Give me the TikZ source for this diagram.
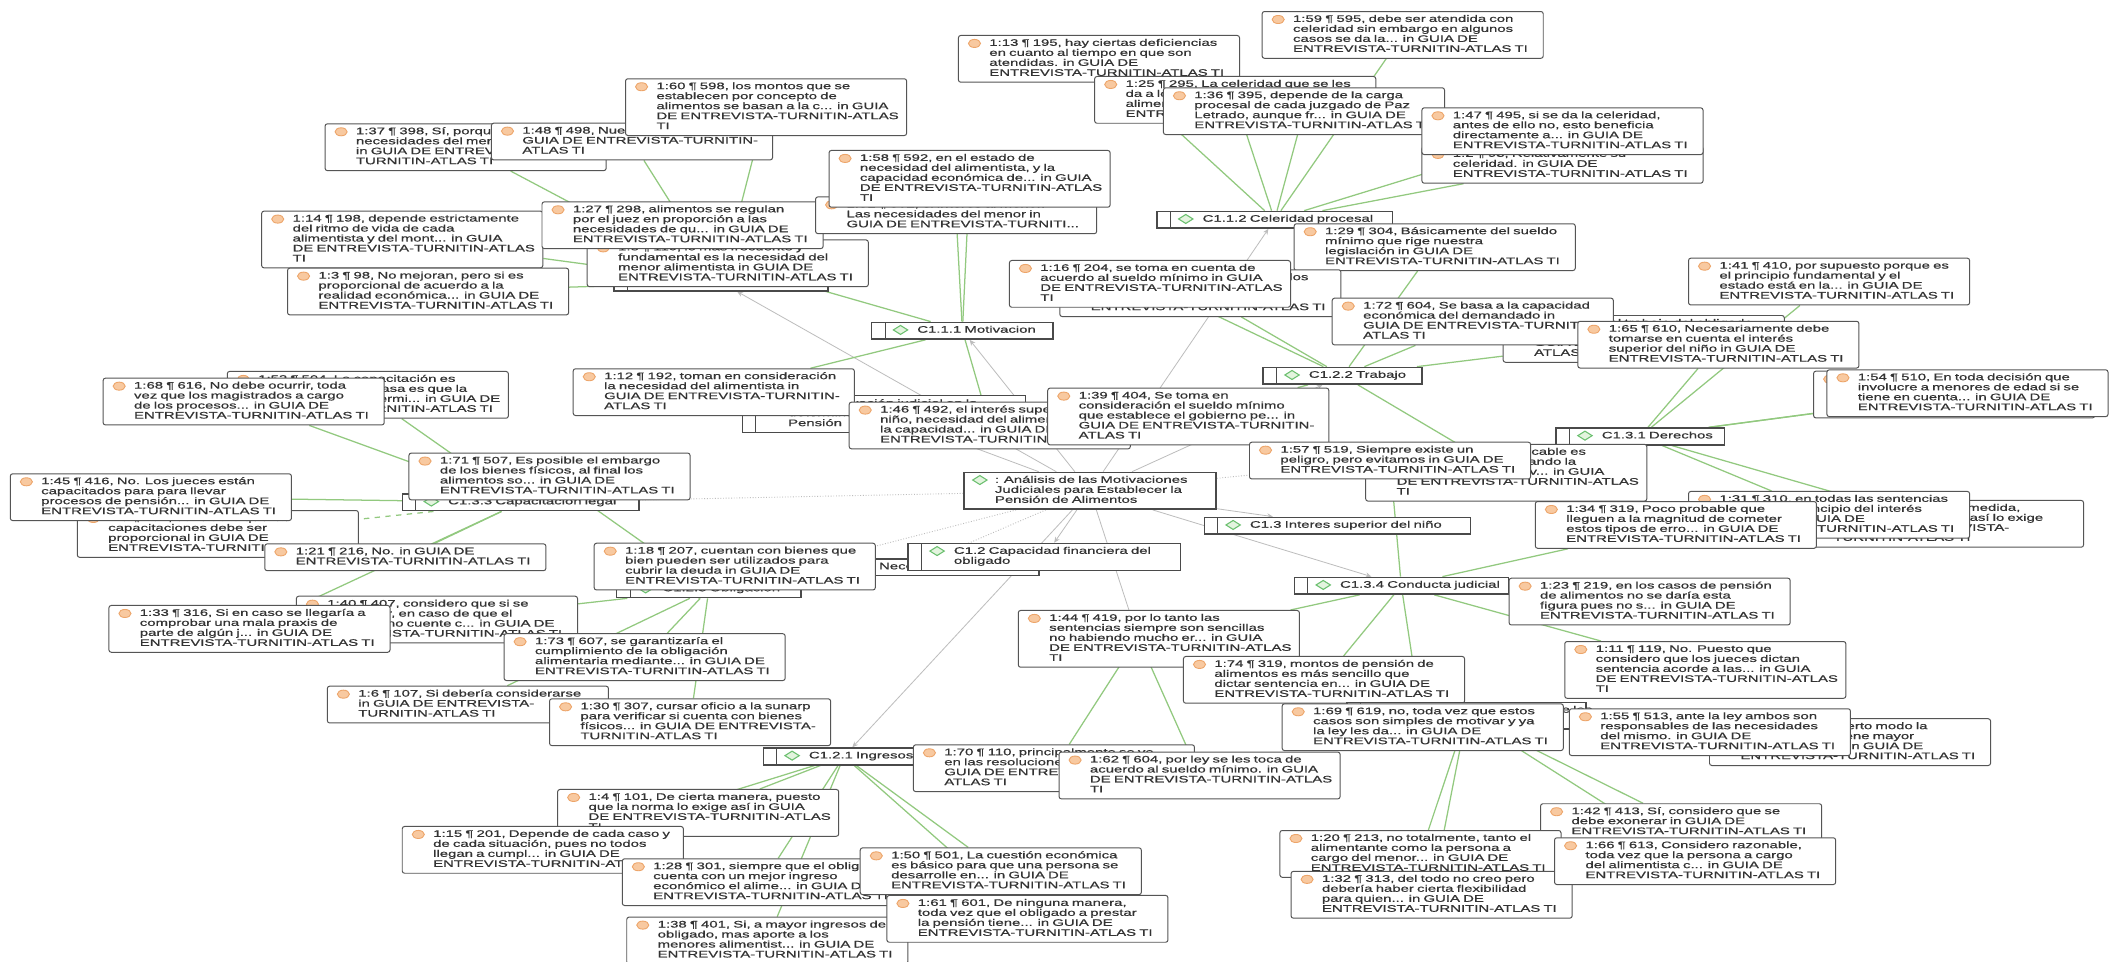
\documentclass[tikz,border=0pt]{standalone}
\usepackage{fontspec}
\usepackage{xcolor}
\usetikzlibrary{shapes.geometric,calc,arrows.meta}

\newfontfamily\qfont[FakeStretch=1.57,FakeBold=0.7]{Liberation Sans}
\newcommand{\boxfont}{\qfont\fontsize{5.3pt}{5.57pt}\selectfont}

\definecolor{qline}{HTML}{555555}
\definecolor{cline}{HTML}{4A4A4A}
\definecolor{qtext}{HTML}{333333}
\definecolor{linkgreen}{HTML}{92C97F}
\definecolor{relgray}{HTML}{BDBDBD}
\definecolor{qiconfill}{HTML}{F8C9A0}
\definecolor{qiconline}{HTML}{EDA56A}
\definecolor{cgreen}{HTML}{6CC070}
\definecolor{cgreenfill}{HTML}{E3F4DE}

\pgfdeclarelayer{back}
\pgfdeclarelayer{links}
\pgfsetlayers{back,links,main}

\tikzset{
  qicon/.style={ellipse, draw=qiconline, fill=qiconfill, line width=0.5pt, minimum width=6.75pt, minimum height=4.5pt, inner sep=0pt},
  cicon/.style={diamond, draw=cgreen, fill=cgreenfill, line width=0.6pt, minimum width=8.25pt, minimum height=5.25pt, inner sep=0pt},
  qbox/.style={draw=qline, fill=white, line width=0.55pt, rounded corners=1.3pt, anchor=north west, inner xsep=0pt, inner ysep=1.9pt, text width=156.75pt, font=\boxfont, text=qtext,
    execute at begin node={\leftskip=17.25pt\rightskip=-12pt plus 1fil\lineskiplimit=-5pt\relax\strut},
    execute at end node={\strut},
    append after command={node[qicon] at ($(\tikzlastnode.north west)+(12.3,6.3)$) {}}},
  cbox/.style={draw=cline, fill=white, line width=0.8pt, anchor=north west, inner xsep=0pt, inner ysep=1.9pt, font=\boxfont, text=qtext,
    execute at begin node={\leftskip=25.5pt\rightskip=-12pt plus 1fil\lineskiplimit=-5pt\relax\strut},
    execute at end node={\strut},
    path picture={\draw[cline, line width=0.6pt] ([xshift=7.5pt]path picture bounding box.north west) -- ([xshift=7.5pt]path picture bounding box.south west);},
    append after command={node[cicon] at ($(\tikzlastnode.north west)+(22,6.2)$) {}}},
  cenbox/.style={draw=cline, fill=white, line width=0.8pt, anchor=north west, inner xsep=0pt, inner ysep=1.9pt, font=\boxfont, text=qtext,
    execute at begin node={\leftskip=17.25pt\rightskip=-12pt plus 1fil\lineskiplimit=-5pt\relax\strut},
    execute at end node={\strut},
    append after command={node[cicon] at ($(\tikzlastnode.north west)+(12.3,6.2)$) {}}},
  link/.style={draw=linkgreen, line width=0.7pt},
  rel/.style={draw=relgray, line width=0.45pt, -{Stealth[length=3.2pt,width=2.8pt]}},
  relplain/.style={draw=relgray, line width=0.45pt},
  reldot/.style={draw=relgray, line width=0.5pt, densely dotted}
}

\begin{document}
\begin{tikzpicture}[x=0.75pt,y=0.75pt,yscale=-1,xscale=1]

\useasboundingbox (0,0) rectangle (1568,714.5);
\begin{pgfonlayer}{back}
\fill[white] (0,0) rectangle (1568,714.5);
\end{pgfonlayer}


\node[qbox] (q137) at (241.3,91.7) {1:37 ¶ 398, Sí, porque las\\necesidades del menor son...\\in GUIA DE ENTREVISTA-\\TURNITIN-ATLAS TI};

\node[qbox] (q148) at (365,91.2) {1:48 ¶ 498, Nuevamente... in\\GUIA DE ENTREVISTA-TURNITIN-\\ATLAS TI};

\node[qbox] (q160) at (464.7,58.2) {1:60 ¶ 598, los montos que se\\establecen por concepto de\\alimentos se basan a la c... in GUIA\\DE ENTREVISTA-TURNITIN-ATLAS\\TI};

\node[qbox] (q114) at (194.2,156.6) {1:14 ¶ 198, depende estrictamente\\del ritmo de vida de cada\\alimentista y del mont... in GUIA\\DE ENTREVISTA-TURNITIN-ATLAS\\TI};

\node[qbox] (q13) at (213.4,199) {1:3 ¶ 98, No mejoran, pero si es\\proporcional de acuerdo a la\\realidad económica... in GUIA DE\\ENTREVISTA-TURNITIN-ATLAS TI};

\node[cbox, text width=119.25pt] (c113) at (456,203.2) {C1.1.3 Proporcionalidad};

\node[qbox] (q18) at (436.2,178) {1:8 ¶ 110, lo más frecuente y\\fundamental es la necesidad del\\menor alimentista in GUIA DE\\ENTREVISTA-TURNITIN-ATLAS TI};

\node[qbox] (q127) at (402.6,149.7) {1:27 ¶ 298, alimentos se regulan\\por el juez en proporción a las\\necesidades de qu... in GUIA DE\\ENTREVISTA-TURNITIN-ATLAS TI};

\node[qbox] (q151) at (606,146) {1:51 ¶ 502, el interés al menor.\\Las necesidades del menor in\\GUIA DE ENTREVISTA-TURNITI...};

\node[qbox] (q158) at (616,111.5) {1:58 ¶ 592, en el estado de\\necesidad del alimentista, y la\\capacidad económica de... in GUIA\\DE ENTREVISTA-TURNITIN-ATLAS\\TI};

\node[qbox] (q113) at (712.2,26) {1:13 ¶ 195, hay ciertas deficiencias\\en cuanto al tiempo en que son\\atendidas. in GUIA DE\\ENTREVISTA-TURNITIN-ATLAS TI};

\node[qbox] (q125) at (813.5,56.5) {1:25 ¶ 295, La celeridad que se les\\da a los procesos de\\alimentos... in GUIA DE\\ENTREVISTA-TURNITIN-ATLAS TI};

\node[qbox] (q136) at (864.6,64.9) {1:36 ¶ 395, depende de la carga\\procesal de cada juzgado de Paz\\Letrado, aunque fr... in GUIA DE\\ENTREVISTA-TURNITIN-ATLAS TI};

\node[qbox] (q159) at (938,8.2) {1:59 ¶ 595, debe ser atendida con\\celeridad sin embargo en algunos\\casos se da la... in GUIA DE\\ENTREVISTA-TURNITIN-ATLAS TI};

\node[qbox] (q12) at (1056.8,108.5) {1:2 ¶ 93, Relativamente su\\celeridad. in GUIA DE\\ENTREVISTA-TURNITIN-ATLAS TI};

\node[qbox] (q147) at (1056.8,79.8) {1:47 ¶ 495, si se da la celeridad,\\antes de ello no, esto beneficia\\directamente a... in GUIA DE\\ENTREVISTA-TURNITIN-ATLAS TI};

\node[cbox, text width=131.25pt] (cCel) at (859.6,156.6) {C1.1.2 Celeridad procesal};

\node[qbox] (q129) at (961.8,166) {1:29 ¶ 304, Básicamente del sueldo\\mínimo que rige nuestra\\legislación in GUIA DE\\ENTREVISTA-TURNITIN-ATLAS TI};

\node[qbox] (q117) at (787.6,200.2) {1:17 ¶ 205, se toma en cuenta los\\ingresos del obligado y las\\necesidades... in GUIA DE\\ENTREVISTA-TURNITIN-ATLAS TI};

\node[qbox] (q116) at (750.1,193.3) {1:16 ¶ 204, se toma en cuenta de\\acuerdo al sueldo mínimo in GUIA\\DE ENTREVISTA-TURNITIN-ATLAS\\TI};

\node[qbox] (q163) at (1117.2,234.2) {1:63 ¶ 607, el trabajo del obligado\\determina el monto... in\\GUIA DE ENTREVISTA-TURNITIN-\\ATLAS TI};

\node[qbox] (q172) at (990.1,221.3) {1:72 ¶ 604, Se basa a la capacidad\\económica del demandado in\\GUIA DE ENTREVISTA-TURNITIN-\\ATLAS TI};

\node[qbox] (q165) at (1172.7,238.5) {1:65 ¶ 610, Necesariamente debe\\tomarse en cuenta el interés\\superior del niño in GUIA DE\\ENTREVISTA-TURNITIN-ATLAS TI};

\node[cbox, text width=88.5pt] (cTra) at (938.6,272.6) {C1.2.2 Trabajo};

\node[qbox] (q141) at (1255,191.6) {1:41 ¶ 410, por supuesto porque es\\el principio fundamental y el\\estado está en la... in GUIA DE\\ENTREVISTA-TURNITIN-ATLAS TI};

\node[qbox] (q153) at (1348,275.6) {1:53 ¶ 509, En toda decisión se\\debe priorizar al menor... in\\GUIA DE ENTREVISTA-TURNITIN-\\ATLAS TI};

\node[qbox] (q154) at (1357.9,274.6) {1:54 ¶ 510, En toda decisión que\\involucre a menores de edad si se\\tiene en cuenta... in GUIA DE\\ENTREVISTA-TURNITIN-ATLAS TI};

\node[cbox, text width=93.75pt] (cDer) at (1156.4,317.7) {C1.3.1 Derechos};

\node[cbox, text width=158pt] (cPen) at (551.4,293.7) {C1.1 Motivación judicial en la\\determinación del monto de la\\Pensión};

\node[qbox] (q112) at (425.8,273.8) {1:12 ¶ 192, toman en consideración\\la necesidad del alimentista in\\GUIA DE ENTREVISTA-TURNITIN-\\ATLAS TI};

\node[cbox, text width=101.25pt] (cMot) at (647.5,239.1) {C1.1.1 Motivacion};

\node[qbox] (q146) at (631,298.6) {1:46 ¶ 492, el interés superior del\\niño, necesidad del alimentista y\\la capacidad... in GUIA DE\\ENTREVISTA-TURNITIN-ATLAS TI};

\node[qbox] (q139) at (778.6,288.2) {1:39 ¶ 404, Se toma en\\consideración el sueldo mínimo\\que establece el gobierno pe... in\\GUIA DE ENTREVISTA-TURNITIN-\\ATLAS TI};

\node[qbox] (q110) at (1015,330) {1:10 ¶ 115, la ley aplicable es\\la realidad, considerando la\\situación y la norma v... in GUIA\\DE ENTREVISTA-TURNITIN-ATLAS\\TI};

\node[qbox] (q157) at (928.6,328.4) {1:57 ¶ 519, Siempre existe un\\peligro, pero evitamos in GUIA DE\\ENTREVISTA-TURNITIN-ATLAS TI};

\node[cenbox, text width=140.6pt] (cCen) at (716.2,350.7) {: Análisis de las Motivaciones\\Judiciales para Establecer la\\Pensión de Alimentos};

\node[cbox, text width=148.5pt] (cInt) at (894.8,384.1) {C1.3 Interes superior del niño};

\node[qbox] (q119) at (1339.7,371.7) {1:19 ¶ 211, en cierta medida,\\puesto que la norma así lo exige\\in GUIA DE ENTREVISTA-\\TURNITIN-ATLAS TI};

\node[qbox] (q131) at (1255,365) {1:31 ¶ 310, en todas las sentencias\\se aplica el principio del interés\\superior... in GUIA DE\\ENTREVISTA-TURNITIN-ATLAS TI};

\node[qbox] (q134) at (1141.1,372.5) {1:34 ¶ 319, Poco probable que\\lleguen a la magnitud de cometer\\estos tipos de erro... in GUIA DE\\ENTREVISTA-TURNITIN-ATLAS TI};

\node[qbox] (q152) at (168.6,275.8) {1:52 ¶ 504, La capacitación es\\constante, lo que pasa es que la\\sobrecarga no lo permi... in GUIA DE\\ENTREVISTA-TURNITIN-ATLAS TI};

\node[qbox] (q168) at (76.3,280.8) {1:68 ¶ 616, No debe ocurrir, toda\\vez que los magistrados a cargo\\de los procesos... in GUIA DE\\ENTREVISTA-TURNITIN-ATLAS TI};

\node[cbox, text width=132pt] (cCap) at (298.7,366.7) {C1.3.3 Capacitación legal};

\node[qbox] (q171) at (303.7,336.5) {1:71 ¶ 507, Es posible el embargo\\de los bienes físicos, al final los\\alimentos so... in GUIA DE\\ENTREVISTA-TURNITIN-ATLAS TI};

\node[qbox] (q15) at (57.1,379.2) {1:5 ¶ 104, considero que las\\capacitaciones debe ser\\proporcional in GUIA DE\\ENTREVISTA-TURNITIN-ATLAS TI};

\node[qbox] (q145) at (7.3,351.9) {1:45 ¶ 416, No. Los jueces están\\capacitados para para llevar\\procesos de pensión... in GUIA DE\\ENTREVISTA-TURNITIN-ATLAS TI};

\node[qbox] (q121) at (196.5,404) {1:21 ¶ 216, No. in GUIA DE\\ENTREVISTA-TURNITIN-ATLAS TI};

\node[cbox, text width=141pt] (cNec) at (584,415) {C1.3.2 Necesidades del menor};

\node[cbox, text width=102.75pt] (cObl) at (458,431.3) {C1.2.3 Obligacion};

\node[qbox] (q118) at (441.4,403.5) {1:18 ¶ 207, cuentan con bienes que\\bien pueden ser utilizados para\\cubrir la deuda in GUIA DE\\ENTREVISTA-TURNITIN-ATLAS TI};

\node[cbox, text width=151.9pt] (cFin) at (674.7,403.5) {C1.2 Capacidad financiera del\\obligado};

\node[cbox, text width=119.25pt] (cCon) at (961.8,428.7) {C1.3.4 Conducta judicial};

\node[qbox] (q123) at (1121.6,429.5) {1:23 ¶ 219, en los casos de pensión\\de alimentos no se daría esta\\figura pues no s... in GUIA DE\\ENTREVISTA-TURNITIN-ATLAS TI};

\node[qbox] (q140) at (220,442.9) {1:40 ¶ 407, considero que si se\\sancionar, en caso de que el\\obligado no cuente c... in GUIA DE\\ENTREVISTA-TURNITIN-ATLAS TI};

\node[qbox] (q133) at (80.6,449.8) {1:33 ¶ 316, Si en caso se llegaría a\\comprobar una mala praxis de\\parte de algún j... in GUIA DE\\ENTREVISTA-TURNITIN-ATLAS TI};

\node[qbox] (q173) at (374.4,470.8) {1:73 ¶ 607, se garantizaría el\\cumplimiento de la obligación\\alimentaria mediante... in GUIA DE\\ENTREVISTA-TURNITIN-ATLAS TI};

\coordinate (hid) at (846,474);

\node[qbox] (q144) at (756.7,453.5) {1:44 ¶ 419, por lo tanto las\\sentencias siempre son sencillas\\no habiendo mucho er... in GUIA\\DE ENTREVISTA-TURNITIN-ATLAS\\TI};

\node[qbox] (q111) at (1163,476.6) {1:11 ¶ 119, No. Puesto que\\considero que los jueces dictan\\sentencia acorde a las... in GUIA\\DE ENTREVISTA-TURNITIN-ATLAS\\TI};

\node[qbox] (q174) at (879.5,487.7) {1:74 ¶ 319, montos de pensión de\\alimentos es más sencillo que\\dictar sentencia en... in GUIA DE\\ENTREVISTA-TURNITIN-ATLAS TI};

\node[qbox] (q16) at (243,509.8) {1:6 ¶ 107, Si debería considerarse\\in GUIA DE ENTREVISTA-\\TURNITIN-ATLAS TI};

\node[qbox] (q130) at (408.2,519.2) {1:30 ¶ 307, cursar oficio a la sunarp\\para verificar si cuenta con bienes\\físicos... in GUIA DE ENTREVISTA-\\TURNITIN-ATLAS TI};

\node[cbox, text width=133.2pt] (cFle) at (1001,521.6) {C1.3.5 Responsabilidad de los\\padres};

\node[qbox] (q169) at (952.9,522.9) {1:69 ¶ 619, no, toda vez que estos\\casos son simples de motivar y ya\\la ley les da... in GUIA DE\\ENTREVISTA-TURNITIN-ATLAS TI};

\node[qbox] (q122) at (1270.6,534) {1:22 ¶ 218, de cierto modo la\\el demandado tiene mayor\\responsabilidad in GUIA DE\\ENTREVISTA-TURNITIN-ATLAS TI};

\node[qbox] (q155) at (1166.4,526.6) {1:55 ¶ 513, ante la ley ambos son\\responsables de las necesidades\\del mismo. in GUIA DE\\ENTREVISTA-TURNITIN-ATLAS TI};

\node[cbox, text width=90pt] (cIng) at (566.9,555.6) {C1.2.1 Ingresos};

\node[qbox] (q170) at (678.7,553.4) {1:70 ¶ 110, principalmente se ve\\en las resoluciones... in\\GUIA DE ENTREVISTA-TURNITIN-\\ATLAS TI};

\node[qbox] (q162) at (787,558.8) {1:62 ¶ 604, por ley se les toca de\\acuerdo al sueldo mínimo. in GUIA\\DE ENTREVISTA-TURNITIN-ATLAS\\TI};

\node[qbox] (q14) at (414.2,586.6) {1:4 ¶ 101, De cierta manera, puesto\\que la norma lo exige así in GUIA\\DE ENTREVISTA-TURNITIN-ATLAS\\TI};

\node[qbox] (q115) at (298.7,614.1) {1:15 ¶ 201, Depende de cada caso y\\de cada situación, pues no todos\\llegan a cumpl... in GUIA DE\\ENTREVISTA-TURNITIN-ATLAS TI};

\node[qbox] (q128) at (462.3,638.1) {1:28 ¶ 301, siempre que el obligado\\cuenta con un mejor ingreso\\económico el alime... in GUIA DE\\ENTREVISTA-TURNITIN-ATLAS TI};

\node[qbox] (q138) at (465.6,681.5) {1:38 ¶ 401, Si, a mayor ingresos del\\obligado, mas aporte a los\\menores alimentist... in GUIA DE\\ENTREVISTA-TURNITIN-ATLAS TI};

\node[qbox] (q150) at (639.2,630) {1:50 ¶ 501, La cuestión económica\\es básico para que una persona se\\desarrolle en... in GUIA DE\\ENTREVISTA-TURNITIN-ATLAS TI};

\node[qbox] (q161) at (659,665.4) {1:61 ¶ 601, De ninguna manera,\\toda vez que el obligado a prestar\\la pensión tiene... in GUIA DE\\ENTREVISTA-TURNITIN-ATLAS TI};

\node[qbox] (q142) at (1145,597.2) {1:42 ¶ 413, Sí, considero que se\\debe exonerar in GUIA DE\\ENTREVISTA-TURNITIN-ATLAS TI};

\node[qbox] (q120) at (951.2,617.1) {1:20 ¶ 213, no totalmente, tanto el\\alimentante como la persona a\\cargo del menor... in GUIA DE\\ENTREVISTA-TURNITIN-ATLAS TI};

\node[qbox] (q132) at (959.5,647.5) {1:32 ¶ 313, del todo no creo pero\\debería haber cierta flexibilidad\\para quien... in GUIA DE\\ENTREVISTA-TURNITIN-ATLAS TI};

\node[qbox] (q166) at (1155.4,622.5) {1:66 ¶ 613, Considero razonable,\\toda vez que la persona a cargo\\del alimentista c... in GUIA DE\\ENTREVISTA-TURNITIN-ATLAS TI};


\begin{pgfonlayer}{links}

\draw[rel] (cCen) -- (cMot);
\draw[rel] (cCen) -- (c113);
\draw[rel] (cCen) -- (cPen);
\draw[rel] (cCen) -- (cCel);
\draw[rel] (cCen) -- (cTra);
\draw[reldot] (cCen) -- (cDer);
\draw[rel] (cCen) -- (cInt);
\draw[rel] (cCen) -- (cCon);
\draw[relplain] (cCen) -- (hid);
\draw[rel] (cCen) -- (cIng);
\draw[rel] (cCen) -- (cFin);
\draw[reldot] (cCen) -- (cObl);
\draw[reldot] (cCen) -- (cCap);
\draw[reldot] (cCen) -- (cNec);

\draw[link] (c113) -- (q137);
\draw[link] (c113) -- (q148);
\draw[link] (c113) -- (q160);
\draw[link] (c113) -- (q114);
\draw[link] (c113) -- (q13);
\draw[link] (c113) -- (q127);

\draw[link] (cMot) -- (q18);
\draw[link] (cMot) -- (q151);
\draw[link] (cMot) -- (q158);
\draw[link] (cMot) -- (q112);
\draw[link] (cMot) -- (q146);

\draw[link] (cCel) -- (q113);
\draw[link] (cCel) -- (q125);
\draw[link] (cCel) -- (q136);
\draw[link] (cCel) -- (q159);
\draw[link] (cCel) -- (q147);
\draw[link] (cCel) -- (q12);

\draw[link] (cTra) -- (q129);
\draw[link] (cTra) -- (q116);
\draw[link] (cTra) -- (q117);
\draw[link] (cTra) -- (q172);
\draw[link] (cTra) -- (q163);
\draw[link] (cTra) -- (q110);
\draw[link] (cTra) -- (q139);

\draw[link] (cDer) -- (q165);
\draw[link] (cDer) -- (q141);
\draw[link] (cDer) -- (q154);
\draw[link] (cDer) -- (q153);
\draw[link] (cDer) -- (q131);
\draw[link] (cDer) -- (q119);

\draw[link] (cCap) -- (q168);
\draw[link] (cCap) -- (q152);
\draw[link] (cCap) -- (q145);
\draw[link, dashed] (cCap) -- (q15);
\draw[link] (cCap) -- (q121);
\draw[link] (cCap) -- (q133);

\draw[link] (cObl) -- (q171);
\draw[link] (cObl) -- (q140);
\draw[link] (cObl) -- (q173);
\draw[link] (cObl) -- (q16);
\draw[link] (cObl) -- (q130);
\draw[link] (cObl) -- (q118);

\draw[link] (cCon) -- (q144);
\draw[link] (cCon) -- (q134);
\draw[link] (cCon) -- (q123);
\draw[link] (cCon) -- (q111);
\draw[link] (cCon) -- (q174);
\draw[link] (cCon) -- (q157);
\draw[link] (cCon) -- (q169);

\draw[link] (cFle) -- (q120);
\draw[link] (cFle) -- (q132);
\draw[link] (cFle) -- (q142);
\draw[link] (cFle) -- (q166);
\draw[link] (cFle) -- (q155);
\draw[link] (cFle) -- (q122);

\draw[link] (cIng) -- (q14);
\draw[link] (cIng) -- (q115);
\draw[link] (cIng) -- (q128);
\draw[link] (cIng) -- (q138);
\draw[link] (cIng) -- (q150);
\draw[link] (cIng) -- (q161);

\draw[link] (hid) -- (q170);
\draw[link] (hid) -- (q162);

\end{pgfonlayer}

\end{tikzpicture}
\end{document}
